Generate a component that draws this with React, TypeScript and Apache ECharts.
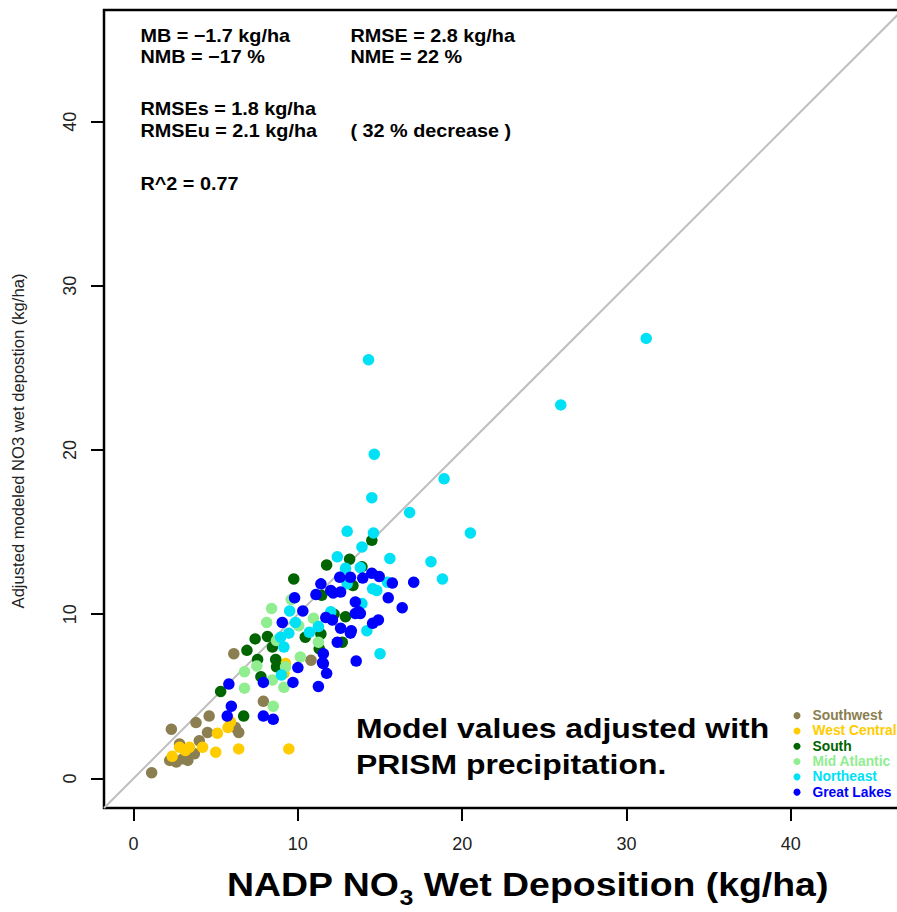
import React, { useEffect, useRef } from "react";
import * as echarts from "echarts";

// ---- axis ----
const AXIS_MIN = -1.8;
const AXIS_MAX = 46.8;
const TICKS = [0, 10, 20, 30, 40];

// ---- regions ----
const REGIONS = ["Southwest", "West Central", "South", "Mid Atlantic", "Northeast", "Great Lakes"];
const COLORS = ["#8B7E50", "#FFCC00", "#006400", "#90EE90", "#00E1F5", "#0000FF"];

// ---- observed (NADP) x and adjusted model y, per region ----
const SW_X = [1.1, 2.3, 2.8, 3.8, 4.6, 4.5, 4.0, 3.4, 2.6, 2.2, 3.0, 3.3, 6.1, 7.9, 10.8, 6.4, 6.2, 2.5, 3.7];
const SW_Y = [0.35, 3.0, 2.1, 3.4, 3.8, 2.8, 2.3, 1.7, 1.0, 1.1, 1.2, 1.1, 7.6, 4.7, 7.2, 2.8, 3.1, 1.1, 1.5];

const WC_X = [9.45, 6.4, 5.0, 5.1, 5.75, 5.9, 4.2, 3.4, 2.8, 2.35, 9.25, 9.15, 3.15];
const WC_Y = [1.8, 1.8, 1.6, 2.75, 3.1, 3.45, 1.9, 1.9, 1.9, 1.35, 7.0, 6.4, 1.7];

const S_X = [14.5, 13.15, 11.75, 13.9, 9.75, 13.35, 11.45, 12.2, 12.9, 11.4, 10.45, 11.3, 12.7, 7.4, 8.15, 6.9, 8.45, 7.55, 8.65, 8.7, 7.75, 5.3, 6.7];
const S_Y = [14.5, 13.35, 13.0, 12.9, 12.15, 11.75, 11.15, 10.0, 9.85, 8.8, 8.6, 7.9, 8.3, 8.5, 8.65, 7.8, 8.0, 7.25, 7.25, 6.8, 6.2, 5.3, 3.8];

const MA_X = [8.4, 8.1, 9.6, 10.95, 10.05, 6.75, 6.75, 7.5, 8.45, 9.15, 8.5, 10.15, 11.25, 9.25, 8.7];
const MA_Y = [10.35, 9.5, 10.9, 9.75, 9.3, 6.5, 5.5, 6.85, 6.0, 5.55, 4.4, 7.4, 8.3, 6.8, 8.4];

const NE_X = [31.2, 26.0, 14.3, 14.65, 18.9, 14.5, 16.8, 20.5, 13.0, 14.6, 13.9, 12.4, 15.6, 18.1, 18.8, 13.8, 12.9, 15.45, 14.55, 14.8, 13.9, 14.2, 15.0, 12.0, 9.5, 9.85, 9.45, 8.95, 10.7, 11.25, 9.15, 9.0, 13.0];
const NE_Y = [26.8, 22.75, 25.5, 19.75, 18.25, 17.1, 16.2, 14.95, 15.05, 14.95, 14.1, 13.5, 13.4, 13.2, 12.15, 12.85, 12.8, 11.95, 11.55, 11.45, 10.65, 9.0, 7.6, 10.15, 10.2, 9.5, 8.85, 8.6, 8.9, 9.25, 8.0, 6.3, 11.85];

const GL_X = [5.8, 5.95, 5.7, 7.9, 8.5, 7.9, 9.7, 10.0, 11.25, 11.5, 11.75, 13.55, 9.05, 9.8, 10.3, 11.4, 12.15, 12.0, 12.6, 11.1, 12.6, 12.4, 13.2, 14.9, 14.55, 15.5, 16.35, 17.05, 15.75, 14.5, 14.95, 12.55, 13.2, 13.95, 13.5, 13.5, 13.8, 11.7, 12.1, 11.55, 11.55, 13.25, 13.7];
const GL_Y = [5.75, 4.4, 3.8, 3.8, 3.6, 5.85, 5.85, 6.75, 5.6, 7.05, 6.4, 7.15, 9.5, 11.0, 10.2, 11.85, 11.3, 11.45, 11.35, 11.2, 9.15, 8.3, 8.85, 9.65, 9.45, 11.0, 10.4, 11.95, 11.9, 12.5, 12.3, 12.25, 12.25, 12.2, 10.75, 10.05, 10.05, 9.8, 9.65, 7.6, 7.0, 9.0, 10.15];

const REGION_X = [SW_X, WC_X, S_X, MA_X, NE_X, GL_X];
const REGION_Y = [SW_Y, WC_Y, S_Y, MA_Y, NE_Y, GL_Y];

// ---- texts ----
const STATS_COL1 = ["MB = \u22121.7 kg/ha", "NMB = \u221217 %", "", "RMSEs = 1.8 kg/ha", "RMSEu = 2.1 kg/ha", "", "R^2 = 0.77"];
const STATS_COL2 = ["RMSE = 2.8 kg/ha", "NME = 22 %", "", "", "( 32 % decrease )", "", ""];
const NOTE_LINES = ["Model values adjusted with", "PRISM precipitation."];
const Y_TITLE = "Adjusted modeled NO3 wet depostion (kg/ha)";
const X_TITLE_PARTS = ["NADP NO", "3", " Wet Deposition (kg/ha)"];

const FONT = "'Liberation Sans', Arial, Helvetica, sans-serif";

export default function App() {
  const ref = useRef<HTMLDivElement>(null);

  useEffect(() => {
    if (!ref.current) return;
    const chart = echarts.init(ref.current, null, { renderer: "svg" });

    const pairs = (xs: number[], ys: number[]) => {
      const n = Math.min(xs.length, ys.length);
      const out: number[][] = [];
      for (let i = 0; i < n; i++) out.push([xs[i], ys[i]]);
      return out;
    };

    const scatterSeries = REGIONS.map((name, i) => ({
      name,
      type: "scatter",
      data: pairs(REGION_X[i], REGION_Y[i]),
      symbol: "circle",
      symbolSize: 11.5,
      itemStyle: { color: COLORS[i], opacity: 1 },
      z: 3,
      emphasis: { disabled: true },
    }));

    const statTexts: any[] = [];
    const rowY = [35.5, 56.7, 0, 109, 131, 0, 184];
    STATS_COL1.forEach((t, r) => {
      if (t) statTexts.push({
        type: "text", x: 140.5, y: rowY[r], scaleX: 1.1,
        style: { text: t, fontSize: 18, fontWeight: "bold", fill: "#000", fontFamily: FONT, align: "left", verticalAlign: "middle" },
      });
    });
    STATS_COL2.forEach((t, r) => {
      if (t) statTexts.push({
        type: "text", x: 350.5, y: rowY[r], scaleX: 1.1,
        style: { text: t, fontSize: 18, fontWeight: "bold", fill: "#000", fontFamily: FONT, align: "left", verticalAlign: "middle" },
      });
    });

    const noteTexts = NOTE_LINES.map((t, i) => ({
      type: "text", x: 356, y: 728.5 + i * 36, scaleX: 1.14,
      style: { text: t, fontSize: 28, fontWeight: "bold", fill: "#000", fontFamily: FONT, align: "left", verticalAlign: "middle" },
    }));

    const axisCommon = (rotate: number, margin: number) => ({
      type: "value", min: AXIS_MIN, max: AXIS_MAX,
      splitLine: { show: false },
      axisLine: { show: false, onZero: false },
      axisTick: { show: true, length: 13, inside: false, customValues: TICKS, lineStyle: { color: "#000", width: 2 } },
      axisLabel: { show: true, customValues: TICKS, rotate, margin, fontSize: 18, color: "#222", fontFamily: FONT },
    });

    const option: any = {
      animation: false,
      backgroundColor: "#fff",
      grid: {
        left: 104, right: 7.5, top: 10, bottom: 104,
        show: true, borderColor: "#000", borderWidth: 2.5, backgroundColor: "transparent",
      },
      xAxis: axisCommon(0, 27),
      yAxis: axisCommon(90, 25),
      legend: {
        orient: "vertical", left: 793.5, top: 708, padding: 0,
        itemWidth: 21, itemHeight: 7, itemGap: 0, icon: "circle",
        selectedMode: false,
        textStyle: { fontSize: 13.8, fontWeight: "bold", fontFamily: FONT, lineHeight: 15.3 },
        data: REGIONS.map((n, i) => ({ name: n, textStyle: { color: COLORS[i] } })),
      },
      series: [
        {
          name: "1:1",
          type: "line",
          data: [[AXIS_MIN, AXIS_MIN], [AXIS_MAX, AXIS_MAX]],
          symbol: "none",
          lineStyle: { color: "#BEBEBE", width: 2 },
          z: 1,
          silent: true,
        },
        ...scatterSeries,
      ],
      graphic: [
        ...statTexts,
        ...noteTexts,
        {
          type: "text", x: 18, y: 441, rotation: Math.PI / 2,
          style: { text: Y_TITLE, fontSize: 16.6, fill: "#222", fontFamily: FONT, align: "center", verticalAlign: "middle" },
        },
        {
          type: "text", x: 227, y: 884, scaleX: 1.134,
          style: {
            text: `{a|${X_TITLE_PARTS[0]}}{b|${X_TITLE_PARTS[1]}}{a|${X_TITLE_PARTS[2]}}`,
            fontFamily: FONT, align: "left", verticalAlign: "middle",
            rich: {
              a: { fontSize: 33, fontWeight: "bold", fill: "#000", fontFamily: FONT, lineHeight: 50, verticalAlign: "middle" },
              b: { fontSize: 22, fontWeight: "bold", fill: "#000", fontFamily: FONT, lineHeight: 22, verticalAlign: "bottom" },
            },
          },
        },
      ],
    };

    chart.setOption(option);
    return () => chart.dispose();
  }, []);

  return (
    <div style={{ position: "fixed", left: 0, top: 0, width: 897, height: 912, overflow: "hidden", background: "#fff" }}>
      <div ref={ref} style={{ width: 910, height: 912 }} />
    </div>
  );
}
